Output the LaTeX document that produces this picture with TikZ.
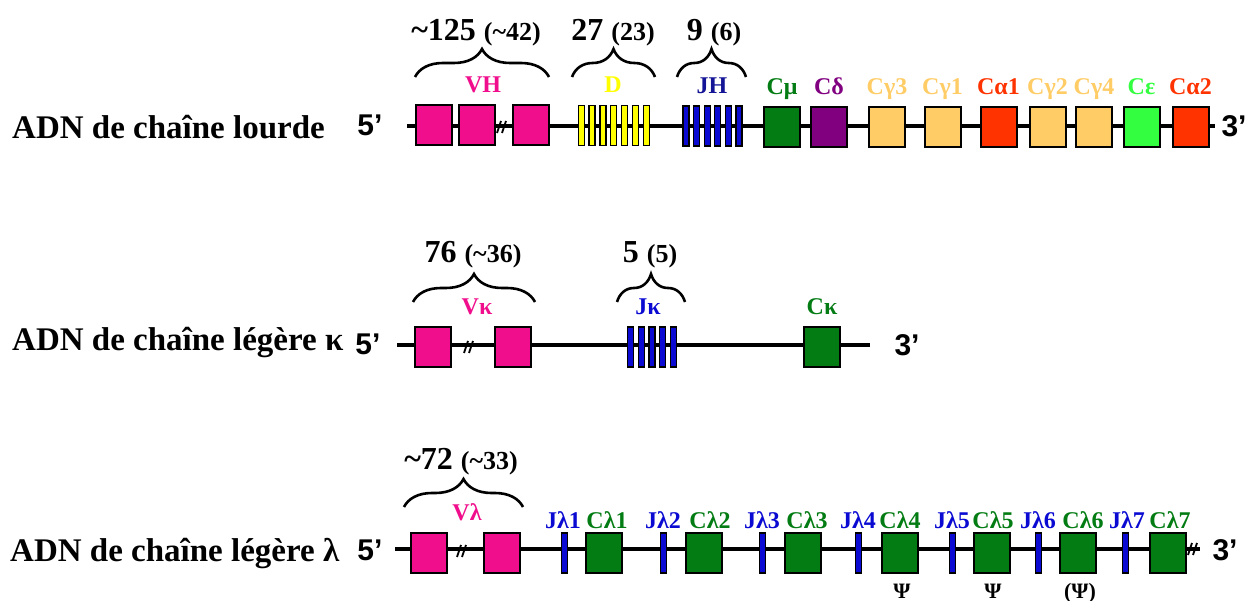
\documentclass[tikz,border=0pt]{standalone}
\usepackage{fontspec}
\setmainfont{Liberation Serif}
\newfontfamily\arialf{Liberation Sans}
\usetikzlibrary{decorations.pathreplacing}
\definecolor{vpink}{RGB}{240,14,140}
\definecolor{dyel}{RGB}{255,255,0}
\definecolor{jblue}{RGB}{10,10,210}
\definecolor{jnavy}{RGB}{20,20,150}
\definecolor{cgreen}{RGB}{4,124,20}
\definecolor{cpurp}{RGB}{128,0,128}
\definecolor{corange}{RGB}{255,204,102}
\definecolor{cred}{RGB}{255,51,0}
\definecolor{clime}{RGB}{51,255,64}

\begin{document}
\begin{tikzpicture}[x=1pt,y=1pt]
		\tikzstyle{every node}+=[inner sep=0pt]
		\tikzstyle{exon}=[draw=black,line width=2pt,minimum width=36pt,minimum height=40pt]
		\tikzstyle{seg}=[draw=black,line width=1.3pt,minimum width=6pt,minimum height=40pt]
		\tikzstyle{dna}=[line width=4pt]
		\tikzstyle{slash}=[line width=1.8pt]
		\tikzstyle{brc}=[line width=2.6pt,decorate,decoration={brace,amplitude=28pt}]
		\tikzstyle{gname}=[font=\fontsize{24}{26}\selectfont\bfseries,anchor=base]
		\tikzstyle{copies}=[font=\fontsize{32}{34}\selectfont\bfseries,anchor=base]
		\tikzstyle{rowname}=[font=\fontsize{33}{36}\selectfont\bfseries,anchor=base west]
		\tikzstyle{strand}=[font=\fontsize{30}{33}\selectfont\arialf\bfseries,anchor=base]
		\tikzstyle{psi}=[font=\fontsize{22}{24}\selectfont\bfseries,anchor=base]
		\newcommand{\paren}[1]{{\fontsize{26}{28}\selectfont(#1)}}
		\useasboundingbox (0,0) rectangle (1256,-601);
		% chaine lourde
		\node[rowname] (lh) at (12,-139) {ADN de chaîne lourde};
		\node[strand] (h5t) at (370,-136) {5’};
		\node[strand] (h3t) at (1234,-137) {3’};
		\coordinate (h5) at (407,-126);
		\coordinate (h3) at (1215,-126);
		\draw[dna] (h5) -- (h3);
		\node[exon,fill=vpink] (vh1) at (434,-125) {};
		\node[exon,fill=vpink] (vh2) at (477,-125) {};
		\node[exon,fill=vpink] (vh3) at (531,-125) {};
		\coordinate (hs) at (503,-127);
		\draw[slash] (hs) ++(-6,-6) -- ++(4,12) ++(1,-12) -- ++(4,12);
		\node[seg,fill=dyel] (d1) at (581.2,-125.5) {};
		\node[seg,fill=dyel] (d2) at (592.1,-125.5) {};
		\node[seg,fill=dyel] (d3) at (602.9,-125.5) {};
		\node[seg,fill=dyel] (d4) at (613.8,-125.5) {};
		\node[seg,fill=dyel] (d5) at (624.6,-125.5) {};
		\node[seg,fill=dyel] (d6) at (635.5,-125.5) {};
		\node[seg,fill=dyel] (d7) at (646.3,-125.5) {};
		\node[seg,fill=jblue] (jh1) at (686,-126) {};
		\node[seg,fill=jblue] (jh2) at (696.6,-126) {};
		\node[seg,fill=jblue] (jh3) at (707.2,-126) {};
		\node[seg,fill=jblue] (jh4) at (717.8,-126) {};
		\node[seg,fill=jblue] (jh5) at (728.4,-126) {};
		\node[seg,fill=jblue] (jh6) at (739,-126) {};
		\node[exon,fill=cgreen] (cmu) at (782,-127) {};
		\node[exon,fill=cpurp] (cdel) at (829,-127) {};
		\node[exon,fill=corange] (cg3) at (887,-127) {};
		\node[exon,fill=corange] (cg1) at (942.5,-127) {};
		\node[exon,fill=cred] (ca1) at (998.5,-127) {};
		\node[exon,fill=corange] (cg2) at (1047.5,-127) {};
		\node[exon,fill=corange] (cg4) at (1094,-127) {};
		\node[exon,fill=clime] (ceps) at (1141.5,-127) {};
		\node[exon,fill=cred] (ca2) at (1190.5,-127) {};
		\node[gname,text=vpink] (lvh) at (483,-93) {VH};
		\node[gname,text=dyel] (ld) at (613,-93) {D};
		\node[gname,text=jnavy] (ljh) at (712,-94) {JH};
		\node[gname,text=cgreen] (lmu) at (782,-95) {Cμ};
		\node[gname,text=cpurp] (ldel) at (829,-95) {Cδ};
		\node[gname,text=corange] (lg3) at (887,-95) {Cγ3};
		\node[gname,text=corange] (lg1) at (942.5,-95) {Cγ1};
		\node[gname,text=cred] (la1) at (998.5,-95) {Cα1};
		\node[gname,text=corange] (lg2) at (1047.5,-95) {Cγ2};
		\node[gname,text=corange] (lg4) at (1094,-95) {Cγ4};
		\node[gname,text=clime] (leps) at (1141.5,-95) {Cε};
		\node[gname,text=cred] (la2) at (1190.5,-95) {Cα2};
		\coordinate (bvh1) at (415,-77);
		\coordinate (bvh2) at (549,-77);
		\coordinate (bd1) at (572,-77);
		\coordinate (bd2) at (655,-77);
		\coordinate (bjh1) at (677,-77);
		\coordinate (bjh2) at (746,-77);
		\draw[brc] (bvh1) -- (bvh2);
		\draw[brc] (bd1) -- (bd2);
		\draw[brc] (bjh1) -- (bjh2);
		\node[copies] (nvh) at (476,-41) {\textasciitilde125 \paren{\textasciitilde42}};
		\node[copies] (nd) at (613,-41) {27 \paren{23}};
		\node[copies] (njh) at (714,-41) {9 \paren{6}};
		% chaine legere kappa
		\node[rowname] (lk) at (12,-351) {ADN de chaîne légère κ};
		\node[strand] (k5t) at (368,-355) {5’};
		\node[strand] (k3t) at (907,-356) {3’};
		\coordinate (k5) at (397,-345);
		\coordinate (k3) at (870,-345);
		\draw[dna] (k5) -- (k3);
		\node[exon,fill=vpink] (vk1) at (433,-347) {};
		\node[exon,fill=vpink] (vk2) at (512.5,-347) {};
		\coordinate (ks) at (470,-347);
		\draw[slash] (ks) ++(-6,-6) -- ++(4,12) ++(1,-12) -- ++(4,12);
		\node[seg,fill=jblue] (jk1) at (630.5,-347) {};
		\node[seg,fill=jblue] (jk2) at (641.2,-347) {};
		\node[seg,fill=jblue] (jk3) at (652,-347) {};
		\node[seg,fill=jblue] (jk4) at (662.7,-347) {};
		\node[seg,fill=jblue] (jk5) at (673.5,-347) {};
		\node[exon,fill=cgreen] (ck) at (822,-347) {};
		\node[gname,text=vpink] (lvk) at (477,-315) {Vκ};
		\node[gname,text=jblue] (ljk) at (648,-315) {Jκ};
		\node[gname,text=cgreen] (lck) at (822,-315) {Cκ};
		\coordinate (bvk1) at (413,-302);
		\coordinate (bvk2) at (535,-302);
		\coordinate (bjk1) at (617,-302);
		\coordinate (bjk2) at (685,-302);
		\draw[brc] (bvk1) -- (bvk2);
		\draw[brc] (bjk1) -- (bjk2);
		\node[copies] (nvk) at (473,-263) {76 \paren{\textasciitilde36}};
		\node[copies] (njk) at (650,-263) {5 \paren{5}};
		% chaine legere lambda
		\node[rowname] (ll) at (10,-561) {ADN de chaîne légère λ};
		\node[strand] (l5t) at (370,-560) {5’};
		\node[strand] (l3t) at (1225,-560) {3’};
		\coordinate (l5) at (395,-549);
		\coordinate (l3) at (1200,-549);
		\draw[dna] (l5) -- (l3);
		\node[exon,fill=vpink] (vl1) at (429,-553) {};
		\node[exon,fill=vpink] (vl2) at (502,-553) {};
		\coordinate (ls) at (463,-551);
		\draw[slash] (ls) ++(-6,-6) -- ++(4,12) ++(1,-12) -- ++(4,12);
		\coordinate (le) at (1194,-549);
		\draw[slash] (le) ++(-6,-6) -- ++(4,12) ++(1,-12) -- ++(4,12);
		\node[seg,fill=jblue] (jl1) at (564.5,-553) {};
		\node[seg,fill=jblue] (jl2) at (663.5,-553) {};
		\node[seg,fill=jblue] (jl3) at (762.5,-553) {};
		\node[seg,fill=jblue] (jl4) at (858.5,-553) {};
		\node[seg,fill=jblue] (jl5) at (952.5,-553) {};
		\node[seg,fill=jblue] (jl6) at (1038.5,-553) {};
		\node[seg,fill=jblue] (jl7) at (1125.5,-553) {};
		\node[exon,fill=cgreen] (cl1) at (604,-553) {};
		\node[exon,fill=cgreen] (cl2) at (704,-553) {};
		\node[exon,fill=cgreen] (cl3) at (802.5,-553) {};
		\node[exon,fill=cgreen] (cl4) at (899.5,-553) {};
		\node[exon,fill=cgreen] (cl5) at (992,-553) {};
		\node[exon,fill=cgreen] (cl6) at (1077.5,-553) {};
		\node[exon,fill=cgreen] (cl7) at (1167.5,-553) {};
		\node[gname,text=jblue] (ljl1) at (563,-528) {Jλ1};
		\node[gname,text=cgreen] (lcl1) at (607,-528) {Cλ1};
		\node[gname,text=jblue] (ljl2) at (663,-528) {Jλ2};
		\node[gname,text=cgreen] (lcl2) at (710,-528) {Cλ2};
		\node[gname,text=jblue] (ljl3) at (762,-528) {Jλ3};
		\node[gname,text=cgreen] (lcl3) at (807,-528) {Cλ3};
		\node[gname,text=jblue] (ljl4) at (858,-528) {Jλ4};
		\node[gname,text=cgreen] (lcl4) at (900,-528) {Cλ4};
		\node[gname,text=jblue] (ljl5) at (952,-528) {Jλ5};
		\node[gname,text=cgreen] (lcl5) at (993,-528) {Cλ5};
		\node[gname,text=jblue] (ljl6) at (1038,-528) {Jλ6};
		\node[gname,text=cgreen] (lcl6) at (1083,-528) {Cλ6};
		\node[gname,text=jblue] (ljl7) at (1127,-528) {Jλ7};
		\node[gname,text=cgreen] (lcl7) at (1170,-528) {Cλ7};
		\node[gname,text=vpink] (lvl) at (467,-520) {Vλ};
		\coordinate (bvl1) at (404,-507);
		\coordinate (bvl2) at (523,-507);
		\draw[brc] (bvl1) -- (bvl2);
		\node[copies] (nvl) at (461,-469) {\textasciitilde72 \paren{\textasciitilde33}};
		\node[psi] (p4) at (902,-598) {Ψ};
		\node[psi] (p5) at (993,-598) {Ψ};
		\node[psi] (p6) at (1080,-598) {(Ψ)};
	\end{tikzpicture}
\end{document}
